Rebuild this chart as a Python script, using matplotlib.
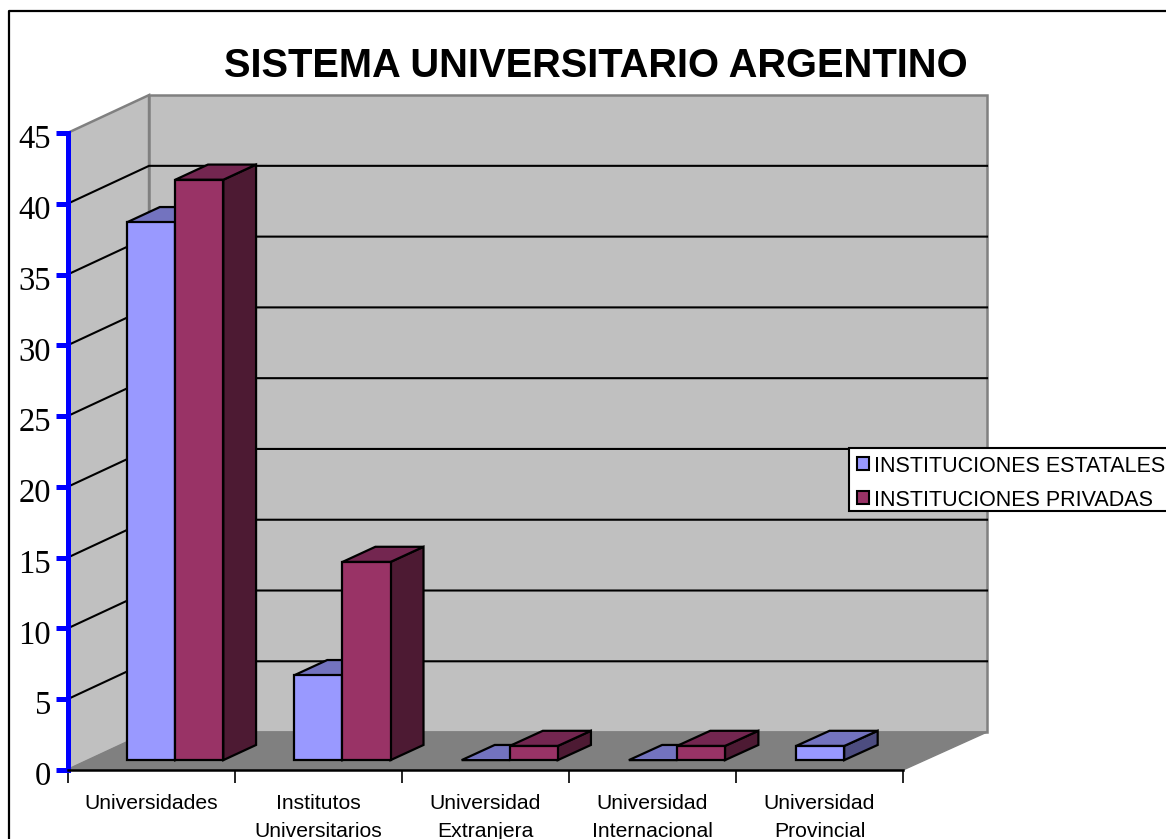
import matplotlib
matplotlib.use("Agg")
import matplotlib.pyplot as plt
from matplotlib.legend_handler import HandlerPatch
from matplotlib.lines import Line2D
from matplotlib.patches import Patch, Rectangle
from matplotlib.transforms import ScaledTranslation

titulo = "SISTEMA UNIVERSITARIO ARGENTINO"
categorias = ["Universidades", "Institutos\nUniversitarios", "Universidad\nExtranjera",
              "Universidad\nInternacional", "Universidad\nProvincial"]
estatales = [38, 6, 0, 0, 1]
privadas = [41, 14, 1, 1, None]  # la provincial no tiene barra privada
nombres = ["INSTITUCIONES ESTATALES", "INSTITUCIONES PRIVADAS"]
yticks = [0, 5, 10, 15, 20, 25, 30, 35, 40, 45]

colores_est = ("#9999FF", "#7373BF", "#4D4D80")  # frente, arriba, costado
colores_pri = ("#993366", "#732650", "#4D1A33")

W, H = 1166, 839
fig = plt.figure(figsize=(W / 100, H / 100), dpi=100)
ax = fig.add_axes([67.5 / W, 1 - 770 / H, 835.5 / W, 637 / H])
ax.set_xlim(0, 5)
ax.set_ylim(0, 45)
ax.patch.set_visible(False)

#cuanto se corre un punto al ir hacia el fondo (en unidades de los ejes)
def proy(x, v, d):
    return x + d * (81.5 + 0.5 * x) / 167, v + d * 2.68

def cara(puntos, color, edge, lw=1.6, z=2):
    xs, ys = zip(*[proy(*p) for p in puntos])
    ax.fill(xs, ys, facecolor=color, edgecolor=edge, linewidth=lw, zorder=z,
            clip_on=False, joinstyle="miter")

#paredes y piso
cara([(0, 0, 0), (0, 0, 1), (0, 45, 1), (0, 45, 0)], "#C0C0C0", "#808080", 1.8, 1)
cara([(0, 0, 1), (5, 0, 1), (5, 45, 1), (0, 45, 1)], "#C0C0C0", "#808080", 1.8, 1)
cara([(0, 0, 0), (5, 0, 0), (5, 0, 1), (0, 0, 1)], "#808080", "#808080", 1.0, 1)

#lineas de la grilla
for v in yticks[1:-1]:
    xs, ys = zip(proy(0, v, 0), proy(0, v, 1), proy(5, v, 1))
    ax.plot(xs, ys, color="black", lw=1.5, zorder=1.5, clip_on=False)

#barras
inicio = 0.23
ancho = 0.2874
d0 = 0.26
d1 = 0.66

def barra(x, v, colores):
    x2 = x + ancho
    if v > 0:
        cara([(x2, 0, d0), (x2, 0, d1), (x2, v, d1), (x2, v, d0)], colores[2], "black")
    cara([(x, v, d0), (x2, v, d0), (x2, v, d1), (x, v, d1)], colores[1], "black")
    if v > 0:
        cara([(x, 0, d0), (x2, 0, d0), (x2, v, d0), (x, v, d0)], colores[0], "black")

for i in range(len(categorias)):
    x = i + inicio
    barra(x, estatales[i], colores_est)
    if privadas[i] is not None:
        barra(x + ancho, privadas[i], colores_pri)

#ejes
for lado in ["top", "right"]:
    ax.spines[lado].set_visible(False)
ax.spines["left"].set_color("#0000FF")
ax.spines["left"].set_linewidth(3.6)
ax.spines["left"].set_zorder(5)
ax.spines["bottom"].set_linewidth(1.8)
ax.spines["bottom"].set_zorder(5)

ax.set_yticks(yticks)
ax.set_yticklabels([str(v) for v in yticks], family="Liberation Serif", fontsize=23.5)
ax.tick_params(axis="y", color="#0000FF", width=3.6, length=9, pad=3)
#los numeros quedan un poco mas abajo que la marca
baja = ScaledTranslation(0, -2.5 / 72, fig.dpi_scale_trans)
for lab in ax.get_yticklabels():
    lab.set_transform(lab.get_transform() + baja)

ax.set_xticks(range(6))
ax.set_xticklabels([])
ax.tick_params(axis="x", color="black", width=1.2, length=9)
ax.set_xticks([i + 0.5 for i in range(5)], minor=True)
ax.set_xticklabels(categorias, minor=True, family="Liberation Sans", fontsize=15.2, linespacing=1.6)
ax.tick_params(axis="x", which="minor", length=0, pad=17)

fig.text(596 / W, 1 - 66 / H, titulo, family="Liberation Sans", fontweight="bold",
         fontsize=28.7, ha="center", va="center")

#marco del grafico
fig.add_artist(Line2D([9 / W, 9 / W, 1], [0, 1 - 11 / H, 1 - 11 / H], color="black", lw=1.6))

#cuadradito de la leyenda corrido respecto del texto
def cuadradito(legend, orig_handle, xdescent, ydescent, width, height, fontsize):
    return Rectangle((-xdescent + 3, -ydescent - 2.5), width, height)

manijas = [Patch(facecolor=colores_est[0], edgecolor="black", linewidth=1.5),
           Patch(facecolor=colores_pri[0], edgecolor="black", linewidth=1.5)]
leg = ax.legend(manijas, nombres, loc="upper left", bbox_to_anchor=(849 / W, 1 - 448 / H),
                bbox_transform=fig.transFigure, borderaxespad=0, fancybox=False,
                framealpha=1, edgecolor="black", handlelength=0.55, handleheight=0.55,
                handletextpad=0.45, borderpad=0.18, labelspacing=0.6,
                handler_map={Patch: HandlerPatch(patch_func=cuadradito)},
                prop={"family": "Liberation Sans", "size": 15.5})
leg.get_frame().set_linewidth(1.5)
leg.set_zorder(10)
for t in leg.get_texts():
    t.set_y(-4)

fig.savefig("out.png", dpi=100, facecolor="white")
